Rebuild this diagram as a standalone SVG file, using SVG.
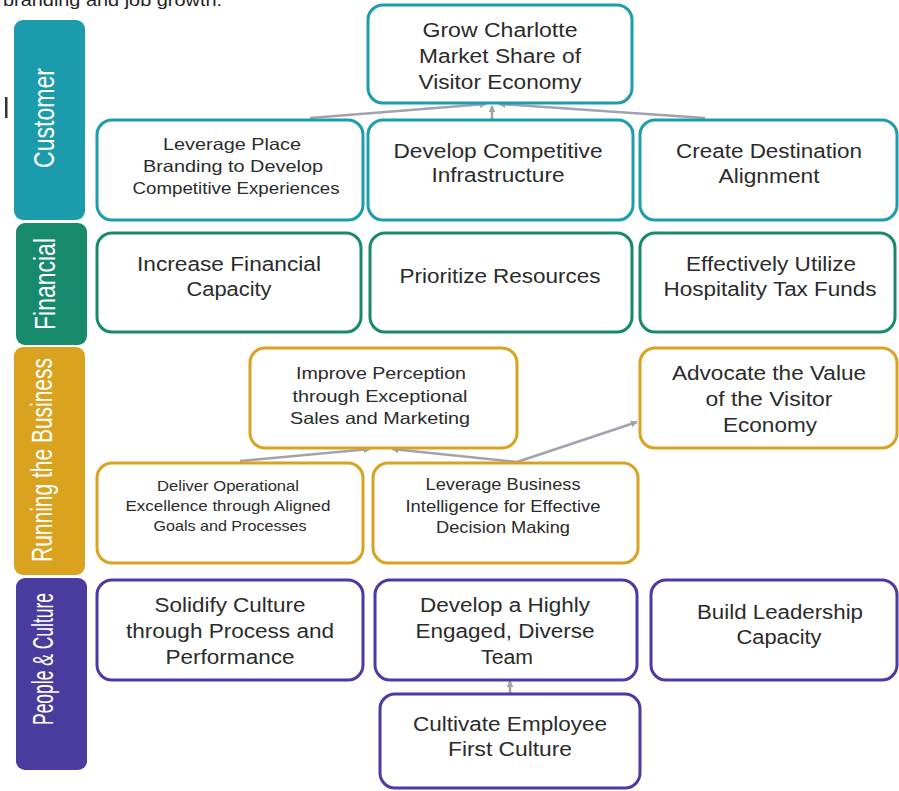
<svg xmlns="http://www.w3.org/2000/svg" width="899" height="791" viewBox="0 0 899 791">
<defs>
<marker id="ah" viewBox="0 0 10 10" refX="9" refY="5" markerWidth="7" markerHeight="7" orient="auto" markerUnits="userSpaceOnUse">
<path d="M0,0 L10,5 L0,10 z" fill="#a2a2ac"/>
</marker>
<style>
.bar{stroke:none}
.bt{font-family:"Liberation Sans",Arial,sans-serif;font-size:29px;fill:#ffffff;text-anchor:middle}
.box{fill:#ffffff;stroke-width:3}
.c{stroke:#1c9cad}
.f{stroke:#188a6b}
.r{stroke:#d9a221}
.p{stroke:#4a3aa4}
.t{font-family:"Liberation Sans",Arial,sans-serif;fill:#2b2b2b;text-anchor:middle;font-size:19.5px}
.m{font-size:16.5px}
.s{font-size:14.5px}
.con{stroke:#a2a2ac;stroke-width:2.5;fill:none;marker-end:url(#ah)}
</style>
</defs>
<rect width="899" height="791" fill="#ffffff"/>
<text x="3" y="6" font-family="Liberation Sans, Arial, sans-serif" font-size="16" fill="#222" textLength="219" lengthAdjust="spacingAndGlyphs">branding and job growth.</text>
<rect x="5" y="97" width="2.5" height="21" fill="#333"/>

<g id="bar-customer"><rect class="bar" x="14" y="20" width="71" height="200" rx="9" fill="#1b9bab"/><text class="bt" transform="translate(54,118) rotate(-90)" textLength="100" lengthAdjust="spacingAndGlyphs">Customer</text></g>
<g id="bar-financial"><rect class="bar" x="16" y="223" width="71" height="122" rx="9" fill="#178a6c"/><text class="bt" transform="translate(55,284) rotate(-90)" textLength="92" lengthAdjust="spacingAndGlyphs">Financial</text></g>
<g id="bar-running"><rect class="bar" x="14" y="347" width="71" height="228" rx="9" fill="#d9a21f"/><text class="bt" transform="translate(52,460) rotate(-90)" textLength="204" lengthAdjust="spacingAndGlyphs">Running the Business</text></g>
<g id="bar-people"><rect class="bar" x="16" y="578" width="71" height="192" rx="9" fill="#4a3b9e"/><text class="bt" transform="translate(53,659) rotate(-90)" textLength="132" lengthAdjust="spacingAndGlyphs">People &amp; Culture</text></g>

<g id="connectors">
<line class="con" x1="310" y1="118" x2="486" y2="104"/>
<line class="con" x1="705" y1="118" x2="499" y2="104"/>
<line class="con" x1="492" y1="121" x2="492" y2="106"/>
<line class="con" x1="240" y1="461" x2="370" y2="449"/>
<line class="con" x1="517" y1="462" x2="392" y2="449"/>
<line class="con" x1="517" y1="462" x2="637" y2="422"/>
<line class="con" x1="510" y1="694" x2="510" y2="681"/>
</g>

<g id="n-grow"><rect class="box c" x="368" y="5" width="264" height="98" rx="15"/>
<text class="t" x="500" y="37" textLength="155" lengthAdjust="spacingAndGlyphs">Grow Charlotte</text>
<text class="t" x="500" y="63" textLength="162" lengthAdjust="spacingAndGlyphs">Market Share of</text>
<text class="t" x="500" y="89" textLength="163" lengthAdjust="spacingAndGlyphs">Visitor Economy</text></g>

<g id="n-place"><rect class="box c" x="97" y="120" width="266" height="100" rx="15"/>
<text class="t m" x="232" y="150" textLength="138" lengthAdjust="spacingAndGlyphs">Leverage Place</text>
<text class="t m" x="233" y="172" textLength="180" lengthAdjust="spacingAndGlyphs">Branding to Develop</text>
<text class="t m" x="236" y="194" textLength="207" lengthAdjust="spacingAndGlyphs">Competitive Experiences</text></g>

<g id="n-infra"><rect class="box c" x="368" y="120" width="265" height="100" rx="15"/>
<text class="t" x="498" y="158" textLength="209" lengthAdjust="spacingAndGlyphs">Develop Competitive</text>
<text class="t" x="498" y="182" textLength="133" lengthAdjust="spacingAndGlyphs">Infrastructure</text></g>

<g id="n-align"><rect class="box c" x="640" y="120" width="257" height="100" rx="15"/>
<text class="t" x="769" y="158" textLength="186" lengthAdjust="spacingAndGlyphs">Create Destination</text>
<text class="t" x="769" y="183" textLength="101" lengthAdjust="spacingAndGlyphs">Alignment</text></g>

<g id="n-capacity"><rect class="box f" x="97" y="233" width="264" height="99" rx="15"/>
<text class="t" x="229" y="271" textLength="184" lengthAdjust="spacingAndGlyphs">Increase Financial</text>
<text class="t" x="229" y="296" textLength="85" lengthAdjust="spacingAndGlyphs">Capacity</text></g>

<g id="n-prioritize"><rect class="box f" x="370" y="233" width="262" height="99" rx="15"/>
<text class="t" x="500" y="283" textLength="201" lengthAdjust="spacingAndGlyphs">Prioritize Resources</text></g>

<g id="n-tax"><rect class="box f" x="640" y="233" width="255" height="99" rx="15"/>
<text class="t" x="771" y="271" textLength="170" lengthAdjust="spacingAndGlyphs">Effectively Utilize</text>
<text class="t" x="770" y="296" textLength="213" lengthAdjust="spacingAndGlyphs">Hospitality Tax Funds</text></g>

<g id="n-perception"><rect class="box r" x="250" y="348" width="267" height="100" rx="15"/>
<text class="t m" x="381" y="379" textLength="170" lengthAdjust="spacingAndGlyphs">Improve Perception</text>
<text class="t m" x="380" y="402" textLength="175" lengthAdjust="spacingAndGlyphs">through Exceptional</text>
<text class="t m" x="380" y="424" textLength="180" lengthAdjust="spacingAndGlyphs">Sales and Marketing</text></g>

<g id="n-advocate"><rect class="box r" x="640" y="348" width="257" height="100" rx="15"/>
<text class="t" x="769" y="380" textLength="194" lengthAdjust="spacingAndGlyphs">Advocate the Value</text>
<text class="t" x="769" y="406" textLength="127" lengthAdjust="spacingAndGlyphs">of the Visitor</text>
<text class="t" x="770" y="432" textLength="94" lengthAdjust="spacingAndGlyphs">Economy</text></g>

<g id="n-operational"><rect class="box r" x="97" y="463" width="266" height="100" rx="15"/>
<text class="t s" x="228" y="491" textLength="142" lengthAdjust="spacingAndGlyphs">Deliver Operational</text>
<text class="t s" x="228" y="511" textLength="205" lengthAdjust="spacingAndGlyphs">Excellence through Aligned</text>
<text class="t s" x="230" y="531" textLength="153" lengthAdjust="spacingAndGlyphs">Goals and Processes</text></g>

<g id="n-intelligence"><rect class="box r" x="373" y="463" width="265" height="100" rx="15"/>
<text class="t m" x="503" y="490" textLength="155" lengthAdjust="spacingAndGlyphs">Leverage Business</text>
<text class="t m" x="503" y="512" textLength="195" lengthAdjust="spacingAndGlyphs">Intelligence for Effective</text>
<text class="t m" x="503" y="533" textLength="134" lengthAdjust="spacingAndGlyphs">Decision Making</text></g>

<g id="n-solidify"><rect class="box p" x="97" y="580" width="266" height="100" rx="15"/>
<text class="t" x="230" y="612" textLength="151" lengthAdjust="spacingAndGlyphs">Solidify Culture</text>
<text class="t" x="230" y="638" textLength="208" lengthAdjust="spacingAndGlyphs">through Process and</text>
<text class="t" x="230" y="664" textLength="129" lengthAdjust="spacingAndGlyphs">Performance</text></g>

<g id="n-engaged"><rect class="box p" x="375" y="580" width="262" height="100" rx="15"/>
<text class="t" x="505" y="612" textLength="170" lengthAdjust="spacingAndGlyphs">Develop a Highly</text>
<text class="t" x="505" y="638" textLength="179" lengthAdjust="spacingAndGlyphs">Engaged, Diverse</text>
<text class="t" x="507" y="664" textLength="52" lengthAdjust="spacingAndGlyphs">Team</text></g>

<g id="n-leadership"><rect class="box p" x="651" y="580" width="246" height="100" rx="15"/>
<text class="t" x="780" y="619" textLength="166" lengthAdjust="spacingAndGlyphs">Build Leadership</text>
<text class="t" x="779" y="644" textLength="85" lengthAdjust="spacingAndGlyphs">Capacity</text></g>

<g id="n-employee"><rect class="box p" x="380" y="694" width="260" height="94" rx="15"/>
<text class="t" x="510" y="731" textLength="194" lengthAdjust="spacingAndGlyphs">Cultivate Employee</text>
<text class="t" x="510" y="756" textLength="124" lengthAdjust="spacingAndGlyphs">First Culture</text></g>
</svg>
